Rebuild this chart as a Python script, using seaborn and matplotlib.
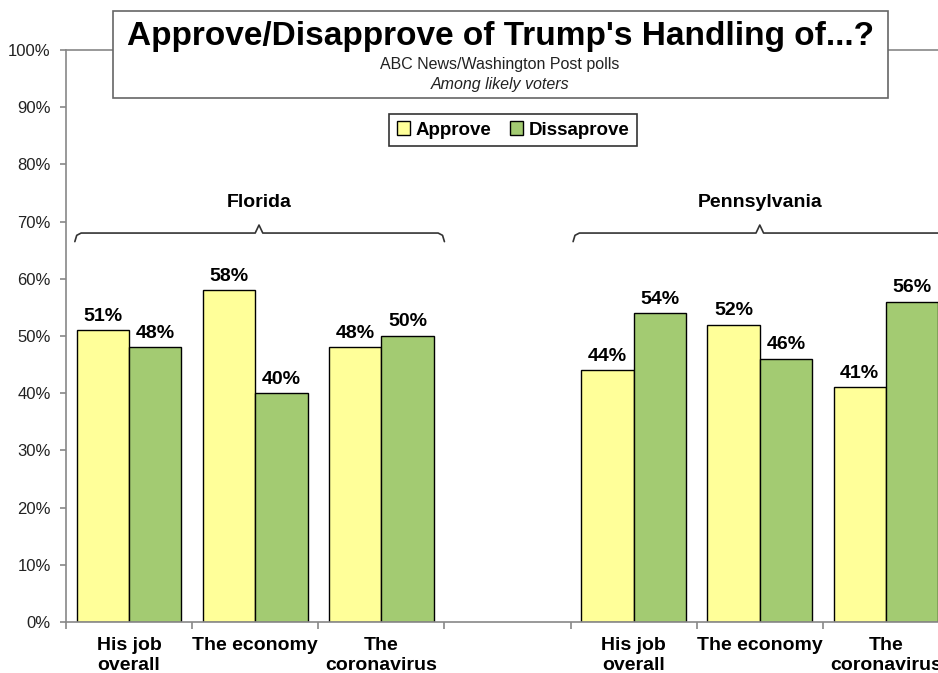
import seaborn as sns
import matplotlib.pyplot as plt
import pandas as pd
from matplotlib.patches import Rectangle, Patch

# slots along the x axis (one empty slot separates the two states)
slots = ["FL_job", "FL_econ", "FL_covid", "gap", "PA_job", "PA_econ", "PA_covid"]
tick_labels = ["His job\noverall", "The economy", "The\ncoronavirus", "",
               "His job\noverall", "The economy", "The\ncoronavirus"]
approve = [51, 58, 48, None, 44, 52, 41]
disapprove = [48, 40, 50, None, 54, 46, 56]
series = ["Approve", "Dissaprove"]
colors = ["#FFFF99", "#A3CB72"]
states = ["Florida", "Pennsylvania"]

rows = []
for s, a, d in zip(slots, approve, disapprove):
    if a is not None:
        rows.append({"slot": s, "series": series[0], "value": a})
        rows.append({"slot": s, "series": series[1], "value": d})
df = pd.DataFrame(rows)

sns.set_style("ticks")
plt.rcParams["font.family"] = ["Liberation Sans", "DejaVu Sans"]
plt.rcParams["text.color"] = "black"
plt.rcParams["xtick.labelcolor"] = "black"
plt.rcParams["ytick.labelcolor"] = "#222222"

fig = plt.figure(figsize=(9.38, 6.73), dpi=100)
ax = fig.add_axes([66 / 938, 51 / 673, 883 / 938, 572 / 673])

sns.barplot(data=df, x="slot", y="value", hue="series", order=slots,
            hue_order=series, palette=colors, saturation=1, width=0.83,
            edgecolor="black", linewidth=1, ax=ax)
if ax.legend_ is not None:
    ax.legend_.remove()

for cont in ax.containers:
    ax.bar_label(cont, labels=[f"{int(round(b.get_height()))}%" for b in cont],
                 padding=4, fontsize=14, fontweight="bold", color="black")

ax.set_ylim(0, 100)
ax.set_xlim(-0.5, 6.5)
ax.set_yticks(range(0, 101, 10))
ax.set_yticklabels([f"{v}%" for v in range(0, 101, 10)], fontsize=12)
ax.set_xticks(range(len(slots)))
ax.set_xticklabels(tick_labels, fontsize=14, fontweight="bold", linespacing=1.2)
ax.set_xticks([i - 0.5 for i in range(len(slots) + 1)], minor=True)
ax.tick_params(axis="x", which="major", length=0, pad=11)
ax.tick_params(axis="x", which="minor", length=5, color="#888888", width=1.2)
ax.tick_params(axis="y", length=4, color="#888888", width=1.2, pad=7)
ax.set_xlabel("")
ax.set_ylabel("")
for side in ["left", "bottom", "top"]:
    ax.spines[side].set_color("#888888")
    ax.spines[side].set_linewidth(1.2)
ax.spines["right"].set_visible(False)

# state braces
def brace(x0, x1, mid, label):
    xs = [x0, x0 + 0.015, x0 + 0.05, mid - 0.03, mid, mid + 0.03, x1 - 0.05, x1 - 0.015, x1]
    ys = [66.5, 67.6, 68, 68, 69.4, 68, 68, 67.6, 66.5]
    ax.plot(xs, ys, color="#333333", lw=1.2, clip_on=False)
    ax.text(mid, 73.3, label, ha="center", va="center", fontsize=14, fontweight="bold")

brace(-0.43, 2.5, 1.03, states[0])
brace(3.52, 6.48, 5.0, states[1])

# title box
fig.add_artist(Rectangle((113 / 938, 1 - 98 / 673), 775 / 938, 87 / 673,
                         transform=fig.transFigure, facecolor="white",
                         edgecolor="#666666", lw=1.2, zorder=2))
fig.text(500 / 938, 1 - 37 / 673, "Approve/Disapprove of Trump's Handling of...?",
         ha="center", va="center", fontsize=24, fontweight="bold", zorder=3)
fig.text(500 / 938, 1 - 65 / 673, "ABC News/Washington Post polls",
         ha="center", va="center", fontsize=11.5, color="#222222", zorder=3)
fig.text(500 / 938, 1 - 84 / 673, "Among likely voters", ha="center", va="center",
         fontsize=11.5, style="italic", color="#222222", zorder=3)

handles = [Patch(facecolor=c, edgecolor="black", lw=1) for c in colors]
leg = fig.legend(handles, series, loc="center", bbox_to_anchor=(513 / 938, 1 - 130 / 673),
                 ncol=2, frameon=True, fancybox=False, edgecolor="black",
                 prop={"size": 13.5, "weight": "bold"}, handlelength=0.7,
                 handleheight=0.7, handletextpad=0.3, columnspacing=1.0,
                 borderpad=0.4)
leg.get_frame().set_linewidth(1.2)

fig.savefig("out.png", dpi=100)
